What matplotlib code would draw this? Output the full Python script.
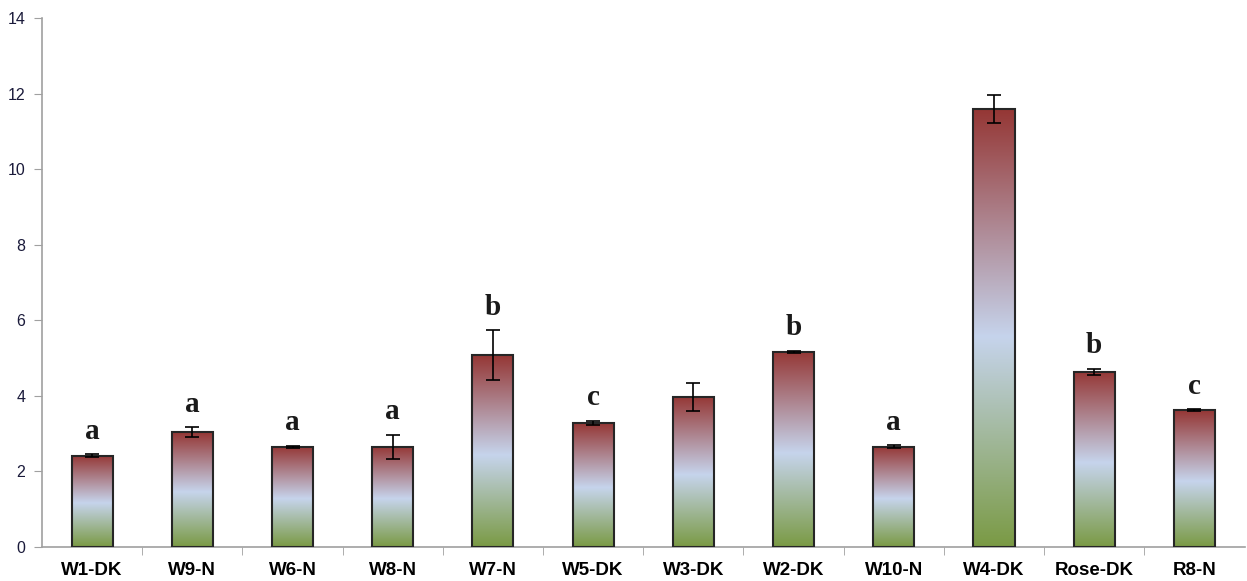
import numpy as np
import matplotlib.pyplot as plt
from matplotlib.colors import LinearSegmentedColormap

categories = ["W1-DK", "W9-N", "W6-N", "W8-N", "W7-N", "W5-DK", "W3-DK",
              "W2-DK", "W10-N", "W4-DK", "Rose-DK", "R8-N"]
values = [2.42, 3.04, 2.65, 2.65, 5.08, 3.28, 3.97, 5.17, 2.65, 11.58, 4.64, 3.62]
errors = [0.04, 0.13, 0.03, 0.32, 0.65, 0.06, 0.37, 0.03, 0.04, 0.37, 0.08, 0.03]
letters = ["a", "a", "a", "a", "b", "c", "", "b", "a", "", "b", "c"]
yticks = [0, 2, 4, 6, 8, 10, 12, 14]

grad_cmap = LinearSegmentedColormap.from_list(
    "bar_grad", [(0.0, "#7a9a44"), (0.48, "#c6d4ec"), (1.0, "#953735")])

fig = plt.figure(figsize=(12.47, 5.81), dpi=100)
ax = fig.add_axes([42 / 1247, 34 / 581, 1 - 42 / 1247 - 0.002, (547 - 18) / 581])

x = np.arange(len(categories))
bars = ax.bar(x, values, width=0.41, facecolor="none", edgecolor="#262626",
              linewidth=1.5, zorder=3)

# gradient fill per bar, clipped to the bar rectangle
grad = np.linspace(0, 1, 256).reshape(-1, 1)
for b in bars:
    x0, y0 = b.get_x(), b.get_y()
    im = ax.imshow(grad, cmap=grad_cmap, origin="lower", aspect="auto",
                   extent=[x0, x0 + b.get_width(), y0, y0 + b.get_height()], zorder=2)
    im.set_clip_path(b)

ax.errorbar(x, values, yerr=errors, fmt="none", ecolor="black", elinewidth=1.2,
            capsize=5, capthick=1.2, zorder=4)

for xi, v, e, lab in zip(x, values, errors, letters):
    if lab:
        ax.text(xi, v + e + 0.25, lab, ha="center", va="bottom", fontsize=21,
                fontweight="bold", family="Liberation Serif", color="#1a1a1a")

ax.set_xlim(-0.5, len(categories) - 0.5)
ax.set_ylim(0, 14)
ax.set_yticks(yticks)
ax.set_yticklabels([str(t) for t in yticks], fontsize=11.5, family="Liberation Sans",
                   color="#1a1a3a")
ax.set_xticks(x)
ax.set_xticklabels(categories, fontsize=13.5, fontweight="bold", family="Liberation Sans")
ax.tick_params(axis="x", which="major", length=0, pad=11)
ax.set_xticks(np.arange(0.5, len(categories) - 0.5), minor=True)
ax.tick_params(axis="x", which="minor", length=6, color="#a0a0a0", direction="out")
ax.tick_params(axis="y", length=6, color="#a0a0a0", direction="out", pad=6)

for s in ["top", "right"]:
    ax.spines[s].set_visible(False)
for s in ["left", "bottom"]:
    ax.spines[s].set_color("#a0a0a0")
    ax.spines[s].set_linewidth(1.2)

fig.savefig("out.png", dpi=100)
